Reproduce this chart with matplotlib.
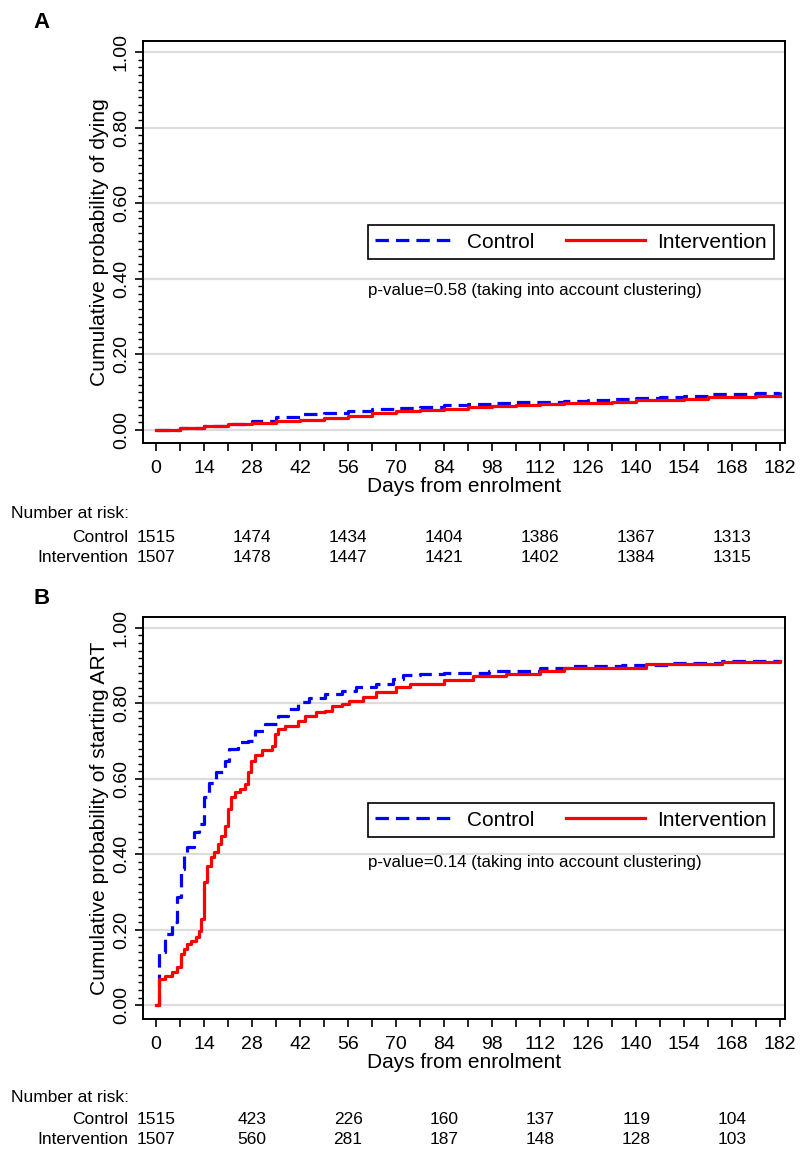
import matplotlib
matplotlib.use("Agg")
import matplotlib.pyplot as plt
from matplotlib.transforms import blended_transform_factory

plt.rcParams['font.family'] = ['Liberation Sans', 'DejaVu Sans']

# ---------------- data ----------------
# Panel A: cumulative probability of dying
a_days = [0, 7, 14, 21, 28, 35, 42, 49, 56, 63, 70, 77, 84, 91, 98, 105, 112,
          119, 126, 133, 140, 147, 154, 161, 168, 175, 182]
a_control = [0, 0.005, 0.011, 0.017, 0.025, 0.035, 0.041, 0.045, 0.050, 0.055,
             0.059, 0.062, 0.066, 0.069, 0.071, 0.073, 0.074, 0.076, 0.079,
             0.082, 0.085, 0.088, 0.091, 0.094, 0.096, 0.099, 0.100]
a_interv = [0, 0.005, 0.011, 0.016, 0.019, 0.023, 0.027, 0.032, 0.037, 0.044,
            0.049, 0.052, 0.055, 0.061, 0.064, 0.066, 0.068, 0.070, 0.072,
            0.075, 0.078, 0.080, 0.081, 0.086, 0.088, 0.089, 0.090]

# Panel B: cumulative probability of starting ART
b_ctrl_days = [0, 1, 2.7, 4.7, 6.2, 7.2, 8.2, 9.1, 11.1, 12.6, 14, 15.5, 17.5,
               20, 21.4, 23.9, 26.8, 28.8, 31.7, 35.7, 38.6, 41.5, 44.5, 49.4,
               54.3, 58.3, 64, 69, 72, 77, 84, 97, 112, 121, 136, 151, 165,
               182]
b_ctrl_vals = [0, 0.14, 0.188, 0.22, 0.286, 0.36, 0.396, 0.42, 0.458, 0.48,
               0.551, 0.59, 0.617, 0.648, 0.679, 0.697, 0.70, 0.728, 0.745,
               0.767, 0.785, 0.803, 0.813, 0.825, 0.834, 0.843, 0.851, 0.865,
               0.874, 0.878, 0.880, 0.887, 0.894, 0.898, 0.902, 0.907, 0.911,
               0.914]
b_int_days = [0, 1, 2.7, 4.7, 6.2, 7.2, 8.2, 9.1, 10.1, 11.6, 12.6, 13.1, 14,
              15, 16, 17, 18, 19, 20, 21, 21.9, 22.9, 24.4, 25.9, 26.8, 27.8,
              28.8, 30.8, 33.7, 34.7, 35.7, 37.6, 41.5, 43.5, 46.5, 49.4,
              51.4, 54.3, 56.3, 60.3, 64.2, 70, 74, 84, 92.5, 102, 112, 119,
              143, 165, 182]
b_int_vals = [0, 0.069, 0.078, 0.087, 0.10, 0.135, 0.149, 0.162, 0.171, 0.18,
              0.197, 0.228, 0.325, 0.37, 0.392, 0.405, 0.427, 0.449, 0.476,
              0.52, 0.551, 0.566, 0.573, 0.586, 0.617, 0.648, 0.663, 0.675,
              0.688, 0.719, 0.732, 0.741, 0.754, 0.767, 0.776, 0.78, 0.792,
              0.798, 0.807, 0.816, 0.829, 0.843, 0.851, 0.863, 0.872, 0.879,
              0.885, 0.894, 0.904, 0.909, 0.911]

risk_days = [0, 28, 56, 84, 112, 140, 168]
a_risk_control = [1515, 1474, 1434, 1404, 1386, 1367, 1313]
a_risk_interv = [1507, 1478, 1447, 1421, 1402, 1384, 1315]
b_risk_control = [1515, 423, 226, 160, 137, 119, 104]
b_risk_interv = [1507, 560, 281, 187, 148, 128, 103]

group_names = ["Control", "Intervention"]
ylabels = ["Cumulative probability of dying",
           "Cumulative probability of starting ART"]
pvalues = ["p-value=0.58 (taking into account clustering)",
           "p-value=0.14 (taking into account clustering)"]

# ---------------- figure ----------------
W, H = 800, 1151
fig = plt.figure(figsize=(W / 100, H / 100), dpi=100)


def fy(py):
    return 1 - py / H


TABLE_FS = 12.5


def make_panel(box, ylim, ylabel, ctrl_x, ctrl_y, int_x, int_y, pval,
               risk_c, risk_i, rows_py, letter, letter_py, leg_py, pv_py):
    left, top, right, bottom = box
    ax = fig.add_axes([left / W, fy(bottom), (right - left) / W, (bottom - top) / H])
    ax.set_xlim(-3.8, 183.4)
    ax.set_ylim(*ylim)
    ax.set_yticks([0, 0.2, 0.4, 0.6, 0.8, 1.0])
    ax.set_yticks([i * 0.02 for i in range(51)], minor=True)
    ax.set_yticklabels([f"{v:.2f}" for v in [0, 0.2, 0.4, 0.6, 0.8, 1.0]],
                       rotation=90, va='center')
    ax.set_xticks(list(range(0, 183, 14)))
    ax.set_xticks(list(range(0, 183, 7)), minor=True)
    ax.tick_params(axis='both', which='major', labelsize=14, length=5.5,
                   width=1.2, direction='out')
    ax.tick_params(axis='y', which='minor', length=3.5, width=1.0)
    ax.tick_params(axis='x', which='minor', length=5.5, width=1.2)
    ax.tick_params(axis='x', which='major', pad=7)
    ax.tick_params(axis='y', which='major', pad=4)
    for s in ax.spines.values():
        s.set_linewidth(1.4)
    ax.grid(axis='y', which='major', color='#dcdcdc', linewidth=1.6)
    ax.set_axisbelow(True)

    ax.step(ctrl_x, ctrl_y, where='post', color='#0000ff', lw=2.3,
            linestyle=(0, (4.2, 2.2)), label=group_names[0], zorder=3)
    ax.step(int_x, int_y, where='post', color='#ff0000', lw=2.3,
            label=group_names[1], zorder=4)

    ax.set_ylabel(ylabel, fontsize=15.2, labelpad=3)
    ax.set_xlabel("Days from enrolment", fontsize=15, labelpad=0)

    leg = ax.legend(loc='center', bbox_to_anchor=(571 / W, fy(leg_py)),
                    bbox_transform=fig.transFigure, ncol=2, fontsize=15,
                    frameon=True, fancybox=False, edgecolor='black',
                    framealpha=1, handlelength=3.8, handletextpad=0.6,
                    columnspacing=1.5, borderpad=0.35, borderaxespad=0)
    leg.get_frame().set_linewidth(1.2)

    ax.text(368 / W, fy(pv_py), pval, transform=fig.transFigure,
            fontsize=12.2, va='center', ha='left')

    fig.text(42 / W, fy(letter_py), letter, fontsize=16, fontweight='bold',
             ha='center', va='center')

    tr = blended_transform_factory(ax.transData, fig.transFigure)
    fig.text(11 / W, fy(rows_py[0]), "Number at risk:", fontsize=TABLE_FS,
             va='center', ha='left')
    fig.text(128 / W, fy(rows_py[1]), group_names[0], fontsize=TABLE_FS,
             va='center', ha='right')
    fig.text(128 / W, fy(rows_py[2]), group_names[1], fontsize=TABLE_FS,
             va='center', ha='right')
    for d, c, i in zip(risk_days, risk_c, risk_i):
        ax.text(d, fy(rows_py[1]), str(c), transform=tr, fontsize=TABLE_FS,
                va='center', ha='center')
        ax.text(d, fy(rows_py[2]), str(i), transform=tr, fontsize=TABLE_FS,
                va='center', ha='center')
    return ax


make_panel((143, 41, 785, 443), (-0.0345, 1.029), ylabels[0],
           a_days, a_control, a_days, a_interv, pvalues[0],
           a_risk_control, a_risk_interv, (514, 538, 558), "A", 22, 242, 290)
make_panel((143, 617, 785, 1019), (-0.037, 1.029), ylabels[1],
           b_ctrl_days, b_ctrl_vals, b_int_days, b_int_vals, pvalues[1],
           b_risk_control, b_risk_interv, (1097, 1120, 1140), "B", 598, 820, 862)

fig.savefig("out.png", dpi=100)
